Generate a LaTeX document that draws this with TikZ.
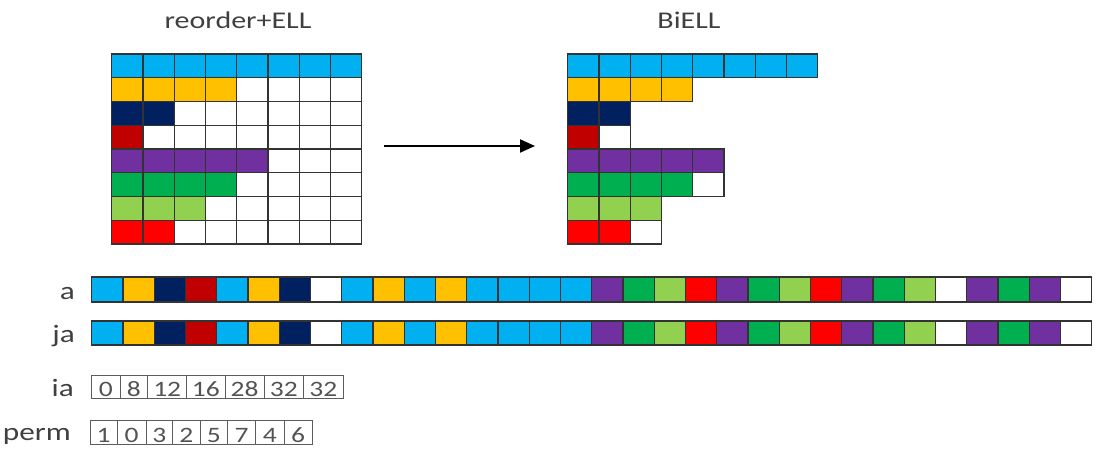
\documentclass[tikz,border=0pt]{standalone}
\usepackage{fontspec}
\setmainfont{Carlito}[FakeStretch=1.25]
\usetikzlibrary{arrows.meta}
\definecolor{cCy}{HTML}{00B0F0}
\definecolor{cYe}{HTML}{FFC000}
\definecolor{cNv}{HTML}{002060}
\definecolor{cDr}{HTML}{C00000}
\definecolor{cPu}{HTML}{7030A0}
\definecolor{cGr}{HTML}{00B050}
\definecolor{cLg}{HTML}{92D050}
\definecolor{cRd}{HTML}{FF0000}
\definecolor{cLine}{HTML}{333333}
\definecolor{cText}{HTML}{404040}
\tikzset{
  cellbox/.style={draw=cLine, line width=1.1pt},
  numbox/.style={draw=cLine!80, line width=0.9pt},
  title/.style={font=\fontsize{24}{27}\selectfont, text=cText, anchor=base},
  lbl/.style={font=\fontsize{25}{28}\selectfont, text=cText, anchor=base east, inner sep=0pt},
  digit/.style={font=\fontsize{22}{24}\selectfont, text=cText!90, anchor=base, inner sep=0pt},
}
\newcommand\cellrow[5]{% x0, y0, colour, n coloured, w total
  \foreach \j in {1,...,#5}{
    \ifnum\j>#4\relax\def\cc{white}\else\def\cc{#3}\fi
    \filldraw[cellbox, fill=\cc] ({#1+(\j-1)*31.25},#2) rectangle ++(31.25,23.75);
  }}
\begin{document}
\begin{tikzpicture}[x=1pt, y=-1pt]
\useasboundingbox (0,0) rectangle (1110,454);
% titles
\node[title] (t1) at (238,28.5) {reorder+ELL};
\node[title] (t2) at (689,28.5) {BiELL};
% left grid (8x8)
\foreach \r/\c/\n in {0/cCy/8,1/cYe/4,2/cNv/2,3/cDr/1,4/cPu/5,5/cGr/4,6/cLg/3,7/cRd/2}{
  \cellrow{111.7}{54+\r*23.75}{\c}{\n}{8}
}
% right grid (BiELL)
\foreach \r/\c/\n/\w in {0/cCy/8/8,1/cYe/4/4,2/cNv/2/2,3/cDr/1/2,4/cPu/5/5,5/cGr/4/5,6/cLg/3/3,7/cRd/2/3}{
  \cellrow{567.7}{54+\r*23.75}{\c}{\n}{\w}
}
% arrow
\coordinate (arrS) at (384,146);
\coordinate (arrE) at (535,146);
\draw[line width=2pt, -{Triangle[length=15pt,width=13pt]}] (arrS) -- (arrE);
% arrays a and ja
\node[lbl] (la) at (75,299) {a};
\node[lbl] (lja) at (75,342) {ja};
\foreach \c [count=\i from 0] in {cCy,cYe,cNv,cDr,cCy,cYe,cNv,white,cCy,cYe,cCy,cYe,cCy,cCy,cCy,cCy,cPu,cGr,cLg,cRd,cPu,cGr,cLg,cRd,cPu,cGr,cLg,white,cPu,cGr,cPu,white}{
  \filldraw[cellbox, fill=\c] ({91.7+\i*31.25},277) rectangle ++(31.25,25);
  \filldraw[cellbox, fill=\c] ({91.7+\i*31.25},321) rectangle ++(31.25,24);
}
% ia
\node[lbl] (lia) at (74,396) {ia};
\foreach \a/\b/\v [count=\k] in {91.7/120/0,120/147.7/8,147.7/186.7/12,186.7/225/16,225/264.3/28,264.3/303.3/32,303.3/343.3/32}{
  \draw[numbox] (\a,375) rectangle (\b,398.5);
  \node[digit] (ia\k) at ({(\a+\b)/2},396.5) {\v};
}
% perm
\node[lbl] (lperm) at (71,440) {perm};
\foreach \a/\b/\v [count=\k] in {90/117.3/1,117.3/146/0,146/172.7/3,172.7/200/2,200/227.7/5,227.7/255.7/7,255.7/284/4,284/312/6}{
  \draw[numbox] (\a,420) rectangle (\b,444);
  \node[digit] (pm\k) at ({(\a+\b)/2},442.5) {\v};
}
\end{tikzpicture}
\end{document}
